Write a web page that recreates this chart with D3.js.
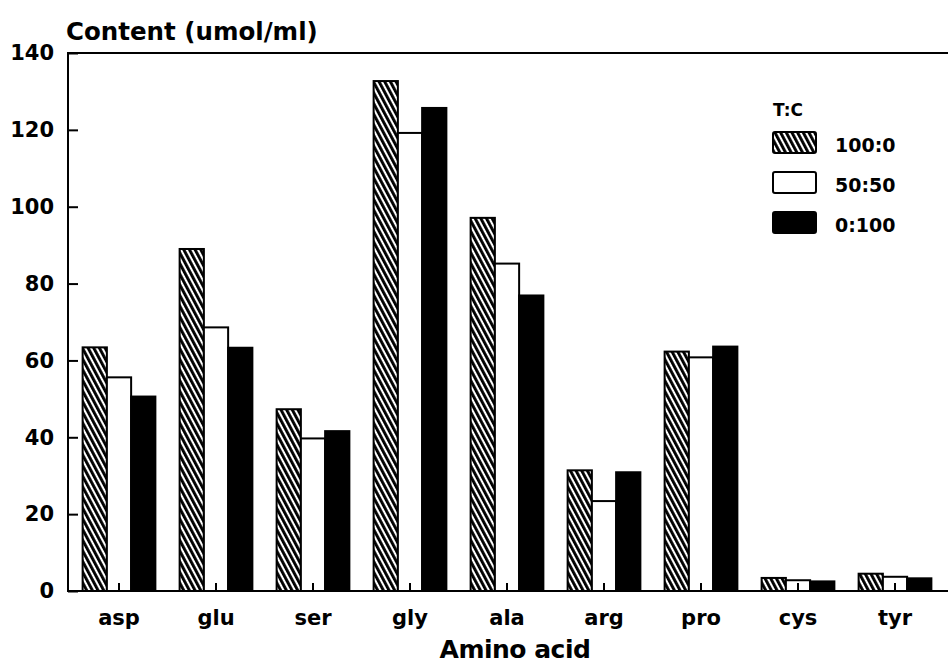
<!DOCTYPE html>
<html>
<head>
<meta charset="utf-8">
<script src="https://cdn.jsdelivr.net/npm/d3@7"></script>
<style>
  body { margin: 0; background: #fff; }
  text { font-family: "DejaVu Sans", sans-serif; font-weight: bold; fill: #000; }
</style>
</head>
<body>
<div id="canvas"></div>
<script>
// data
var acids = ["asp", "glu", "ser", "gly", "ala", "arg", "pro", "cys", "tyr"];
var ratios = ["100:0", "50:50", "0:100"];
var tc100_0 = [63.4, 89.0, 47.3, 132.7, 97.1, 31.4, 62.3, 3.4, 4.5];
var tc50_50 = [55.6, 68.6, 39.7, 119.2, 85.2, 23.4, 60.8, 2.8, 3.7];
var tc0_100 = [50.6, 63.3, 41.6, 125.7, 76.9, 30.9, 63.6, 2.5, 3.3];
var yTicks = [0, 20, 40, 60, 80, 100, 120, 140];

var series = [tc100_0, tc50_50, tc0_100];

// note: "top" is a reserved window property, so use other names
var W = 948, H = 666;
var plotLeft = 68, plotTop = 53, plotBottom = 591;

var svg = d3.select("#canvas")
  .append("svg")
  .attr("width", W)
  .attr("height", H);

// hatch pattern for 100:0
var defs = svg.append("defs");
var pat = defs.append("pattern")
  .attr("id", "hatch")
  .attr("patternUnits", "userSpaceOnUse")
  .attr("width", 5)
  .attr("height", 5)
  .attr("patternTransform", "rotate(-28)");
pat.append("rect").attr("width", 5).attr("height", 5).attr("fill", "#fff");
pat.append("rect").attr("x", 0).attr("width", 2.9).attr("height", 5).attr("fill", "#000");

var fills = ["url(#hatch)", "#fff", "#000"];

var x = d3.scaleBand()
  .domain(acids)
  .range([70.5, 943.5])
  .paddingInner(0.25)
  .paddingOuter(0.125);

var xs = d3.scaleBand()
  .domain(d3.range(ratios.length))
  .range([0, x.bandwidth()]);

var y = d3.scaleLinear()
  .domain([0, 140])
  .range([plotBottom, plotTop]);

// bars
var groups = svg.append("g")
  .selectAll("g")
  .data(acids)
  .enter()
  .append("g")
  .attr("transform", function(d) { return "translate(" + x(d) + ",0)"; });

groups.selectAll("rect")
  .data(function(d, i) { return series.map(function(s, k) { return {k: k, v: s[i]}; }); })
  .enter()
  .append("rect")
  .attr("x", function(d) { return xs(d.k); })
  .attr("y", function(d) { return y(d.v); })
  .attr("width", xs.bandwidth())
  .attr("height", function(d) { return y(0) - y(d.v); })
  .attr("fill", function(d) { return fills[d.k]; })
  .attr("stroke", "#000")
  .attr("stroke-width", 2);

// Y axis, ticks pointing inward
var yAxis = svg.append("g")
  .attr("transform", "translate(" + plotLeft + ",0)")
  .call(d3.axisLeft(y).tickValues(yTicks).tickSizeInner(-10).tickSizeOuter(0).tickPadding(14));
yAxis.select(".domain").remove();
yAxis.selectAll("line").attr("stroke", "#000").attr("stroke-width", 2);
yAxis.selectAll("text").style("font-size", "21px").attr("fill", "#000");

// X axis, small ticks pointing up
var xAxis = svg.append("g")
  .attr("transform", "translate(0," + plotBottom + ")")
  .call(d3.axisBottom(x).tickSizeInner(-8).tickSizeOuter(0).tickPadding(19));
xAxis.select(".domain").remove();
xAxis.selectAll("line").attr("stroke", "#000").attr("stroke-width", 2);
xAxis.selectAll("text").style("font-size", "21px").attr("fill", "#000");

// frame: left, top, bottom
svg.append("path")
  .attr("d", "M" + W + "," + plotTop + "H" + plotLeft + "V" + plotBottom + "H" + W)
  .attr("fill", "none")
  .attr("stroke", "#000")
  .attr("stroke-width", 2);

// titles
svg.append("text")
  .attr("x", 66)
  .attr("y", 40)
  .style("font-size", "24.5px")
  .text("Content (umol/ml)");

svg.append("text")
  .attr("x", 515)
  .attr("y", 658)
  .attr("text-anchor", "middle")
  .style("font-size", "25px")
  .style("letter-spacing", "-0.5px")
  .text("Amino acid");

// legend
var legend = svg.append("g").attr("transform", "translate(773,0)");
legend.append("text")
  .attr("x", 0)
  .attr("y", 116)
  .style("font-size", "17px")
  .text("T:C");

var items = legend.selectAll("g.item")
  .data(ratios)
  .enter()
  .append("g")
  .attr("class", "item")
  .attr("transform", function(d, i) { return "translate(0," + (132 + i * 40) + ")"; });

items.append("rect")
  .attr("width", 43)
  .attr("height", 21)
  .attr("rx", 2)
  .attr("fill", function(d, i) { return fills[i]; })
  .attr("stroke", "#000")
  .attr("stroke-width", 2);

items.append("text")
  .attr("x", 62)
  .attr("y", 20)
  .style("font-size", "19px")
  .text(function(d) { return d; });
</script>
</body>
</html>
